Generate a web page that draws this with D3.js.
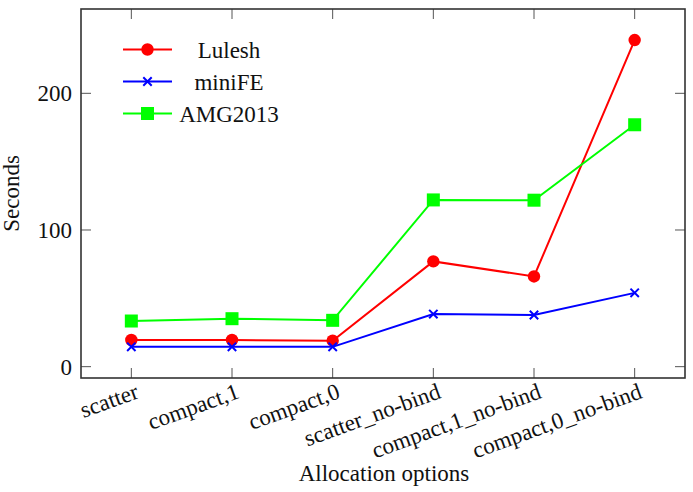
<!DOCTYPE html>
<html>
<head>
<meta charset="utf-8">
<script src="https://cdn.jsdelivr.net/npm/d3@7"></script>
<style>
  body { margin: 0; background: #fff; }
  text { font-family: "Liberation Serif", "Times New Roman", serif; fill: #111; }
</style>
</head>
<body>
<div id="chart"></div>
<script>
// data
var categories = ["scatter", "compact,1", "compact,0", "scatter_no-bind", "compact,1_no-bind", "compact,0_no-bind"];
var lulesh = [19.5, 19.5, 19, 77, 66, 239];
var minife = [14.5, 14.5, 14.5, 38.5, 37.8, 54];
var amg2013 = [33.4, 35.1, 33.9, 122, 121.8, 177];
var yTicks = [0, 100, 200];

var width = 693,
    height = 492,
    fontSize = "23px";

// plot frame
var plotL = 81, plotR = 685, plotT = 9, plotB = 378;

var svg = d3.select("#chart")
  .append("svg")
  .attr("width", width)
  .attr("height", height);

var x = d3.scalePoint()
  .domain(categories)
  .range([plotL, plotR])
  .padding(0.5);

var y = d3.scaleLinear()
  .domain([-8.3, 261.7])
  .range([plotB, plotT]);

var series = [
  {name: "Lulesh", values: lulesh, color: "#ff0000", marker: "circle"},
  {name: "miniFE", values: minife, color: "#0000ff", marker: "cross"},
  {name: "AMG2013", values: amg2013, color: "#00ff00", marker: "square"}
];

var tickLen = 10;

// ticks (inside, mirrored)
var ticks = svg.append("g").attr("stroke", "#555").attr("stroke-width", 1);
categories.forEach(function(c) {
  ticks.append("line").attr("x1", x(c)).attr("x2", x(c)).attr("y1", plotB).attr("y2", plotB - tickLen);
  ticks.append("line").attr("x1", x(c)).attr("x2", x(c)).attr("y1", plotT).attr("y2", plotT + tickLen);
});
yTicks.forEach(function(t) {
  ticks.append("line").attr("x1", plotL).attr("x2", plotL + tickLen).attr("y1", y(t)).attr("y2", y(t));
  ticks.append("line").attr("x1", plotR).attr("x2", plotR - tickLen).attr("y1", y(t)).attr("y2", y(t));
});

// y tick labels
svg.append("g").selectAll("text")
  .data(yTicks).enter()
  .append("text")
  .attr("x", plotL - 9)
  .attr("y", function(d) { return y(d); })
  .attr("dy", "0.35em")
  .attr("text-anchor", "end")
  .style("font-size", fontSize)
  .text(function(d) { return d; });

// x tick labels, rotated
svg.append("g").selectAll("text")
  .data(categories).enter()
  .append("text")
  .attr("transform", function(d) { return "translate(" + (x(d) + 3) + "," + (plotB + 4) + ")rotate(-20)"; })
  .attr("dy", "0.72em")
  .attr("text-anchor", "end")
  .style("font-size", fontSize)
  .text(function(d) { return d; });

// axis labels
svg.append("text")
  .attr("x", (plotL + plotR) / 2 + 1)
  .attr("y", 481)
  .attr("text-anchor", "middle")
  .style("font-size", fontSize)
  .text("Allocation options");

svg.append("text")
  .attr("transform", "translate(19," + (plotT + plotB) / 2 + ")rotate(-90)")
  .attr("text-anchor", "middle")
  .style("font-size", fontSize)
  .text("Seconds");

function drawMarker(g, type, color, cx, cy) {
  if (type === "circle") {
    g.append("circle").attr("cx", cx).attr("cy", cy).attr("r", 6.2).attr("fill", color);
  } else if (type === "square") {
    g.append("rect").attr("x", cx - 6.5).attr("y", cy - 6.5).attr("width", 13).attr("height", 13).attr("fill", color);
  } else {
    var s = 4.2;
    g.append("path")
      .attr("d", "M" + (cx - s) + "," + (cy - s) + "L" + (cx + s) + "," + (cy + s) +
                 "M" + (cx - s) + "," + (cy + s) + "L" + (cx + s) + "," + (cy - s))
      .attr("stroke", color).attr("stroke-width", 2).attr("fill", "none");
  }
}

var line = d3.line()
  .x(function(d, i) { return x(categories[i]); })
  .y(function(d) { return y(d); });

series.forEach(function(s) {
  var g = svg.append("g");
  g.append("path")
    .datum(s.values)
    .attr("d", line)
    .attr("fill", "none")
    .attr("stroke", s.color)
    .attr("stroke-width", 2);
  s.values.forEach(function(v, i) {
    drawMarker(g, s.marker, s.color, x(categories[i]), y(v));
  });
});

// frame
svg.append("rect")
  .attr("x", plotL).attr("y", plotT)
  .attr("width", plotR - plotL).attr("height", plotB - plotT)
  .attr("fill", "none")
  .attr("stroke", "#333")
  .attr("stroke-width", 1.6);

// legend
var legend = svg.append("g").attr("class", "legend");
series.forEach(function(s, i) {
  var ly = 49.5 + i * 32;
  legend.append("line")
    .attr("x1", 123).attr("x2", 172).attr("y1", ly).attr("y2", ly)
    .attr("stroke", s.color).attr("stroke-width", 2);
  drawMarker(legend, s.marker, s.color, 147.5, ly);
  legend.append("text")
    .attr("x", 229).attr("y", ly)
    .attr("dy", "0.35em")
    .attr("text-anchor", "middle")
    .style("font-size", fontSize)
    .text(s.name);
});
</script>
</body>
</html>
